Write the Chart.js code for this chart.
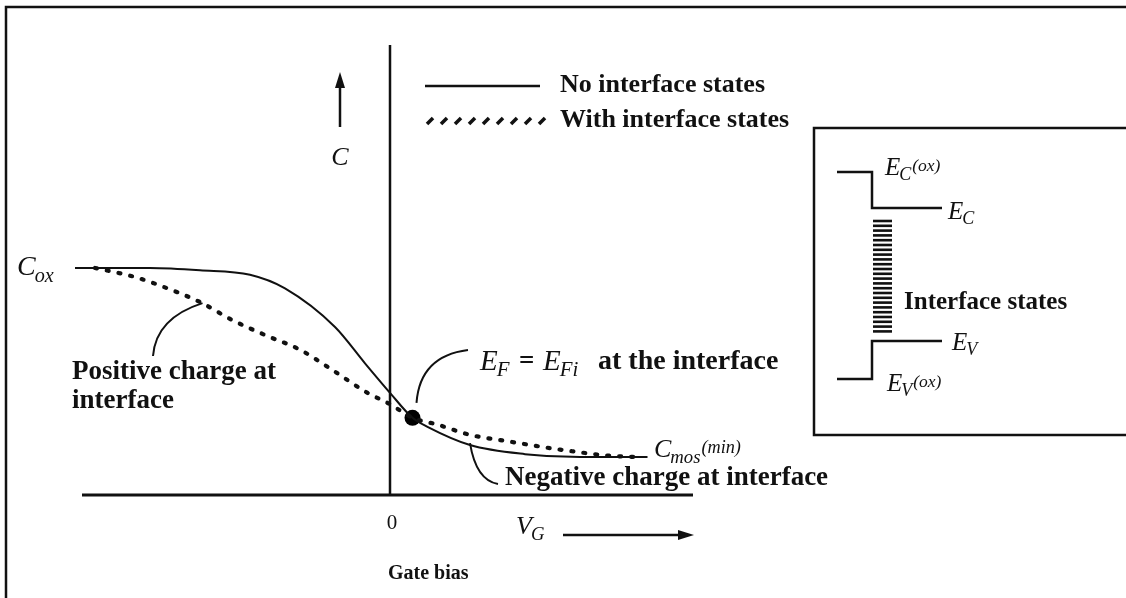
<!DOCTYPE html>
<html>
<head>
<meta charset="utf-8">
<script src="https://cdn.jsdelivr.net/npm/chart.js@4"></script>
<style>
  html, body { margin: 0; padding: 0; background: #fff; }
  canvas { display: block; }
</style>
</head>
<body>
<canvas id="cvChart" width="1126" height="598"></canvas>
<script>
// gate bias (arb. volts) / capacitance normalised to Cox
const biasIdeal  = [-6.3, -4.8, -3.8, -2.8, -2.1, -1.1, -0.5, 0, 0.45, 0.75, 1.6, 2.7, 3.8, 5.15];
const capIdeal   = [1.0, 1.0, 0.99, 0.97, 0.91, 0.74, 0.58, 0.45, 0.34, 0.30, 0.22, 0.18, 0.167, 0.167];
const biasStates = [-5.9, -5.1, -4.45, -3.8, -3.15, -2.45, -1.8, -1.15, -0.45, 0, 0.45, 0.95, 1.6, 2.4, 3.4, 4.45, 5.0];
const capStates  = [1.0, 0.96, 0.91, 0.85, 0.77, 0.70, 0.64, 0.55, 0.45, 0.40, 0.34, 0.31, 0.265, 0.235, 0.20, 0.172, 0.167];
const midgapPoint = [0.45, 0.34];   // E_F = E_Fi
const xTickLabels = ['0'];
const legendLabels = ['No interface states', 'With interface states'];

const SERIF = '"Liberation Serif", "DejaVu Serif", serif';

function pts(xs, ys) {
  return xs.map((v, i) => ({ x: v, y: ys[i] }));
}

function stroke(ctx, path, w) {
  ctx.beginPath();
  ctx.lineWidth = w;
  ctx.moveTo(path[0][0], path[0][1]);
  for (let i = 1; i < path.length; i++) ctx.lineTo(path[i][0], path[i][1]);
  ctx.stroke();
}

function curve(ctx, x1, y1, cx, cy, x2, y2, w) {
  ctx.beginPath();
  ctx.lineWidth = w;
  ctx.moveTo(x1, y1);
  ctx.quadraticCurveTo(cx, cy, x2, y2);
  ctx.stroke();
}

function txt(ctx, s, x, y, size, style) {
  ctx.font = (style || '') + ' ' + size + 'px ' + SERIF;
  ctx.fillText(s, x, y);
  return ctx.measureText(s).width;
}

// italic symbol with subscript and optional trailing part
function sym(ctx, base, sub, x, y, size, tail) {
  let w = txt(ctx, base, x, y, size, 'italic');
  let ws = txt(ctx, sub, x + w - 1, y + size * 0.3, size * 0.72, 'italic');
  if (tail) txt(ctx, tail, x + w + ws, y - size * 0.05, size * 0.7, 'italic');
}

const figurePlugin = {
  id: 'figure',
  afterDatasetsDraw(chart) {
    const ctx = chart.ctx;
    const xs = chart.scales.x, ys = chart.scales.y;
    const x0 = xs.getPixelForValue(0);
    const yb = ys.getPixelForValue(0);
    ctx.save();
    ctx.strokeStyle = '#111';
    ctx.fillStyle = '#111';
    ctx.lineCap = 'butt';
    ctx.textBaseline = 'middle';

    // outer frame
    stroke(ctx, [[1130, 7], [6, 7], [6, 600]], 2.5);

    // axes
    stroke(ctx, [[xs.left, yb], [xs.right, yb]], 3);
    stroke(ctx, [[x0, ys.top], [x0, yb]], 2.5);
    ctx.textAlign = 'center';
    txt(ctx, xTickLabels[0], x0 + 2, 523, 21, '');
    ctx.textAlign = 'left';

    // C arrow
    stroke(ctx, [[340, 127], [340, 84]], 2.5);
    ctx.beginPath();
    ctx.moveTo(340, 72); ctx.lineTo(335, 88); ctx.lineTo(345, 88); ctx.closePath(); ctx.fill();
    ctx.textAlign = 'center';
    txt(ctx, 'C', 340, 158, 26, 'italic');
    ctx.textAlign = 'left';

    // V_G arrow
    sym(ctx, 'V', 'G', 516, 527, 26);
    stroke(ctx, [[563, 535], [682, 535]], 2.5);
    ctx.beginPath();
    ctx.moveTo(694, 535); ctx.lineTo(678, 530); ctx.lineTo(678, 540); ctx.closePath(); ctx.fill();
    txt(ctx, 'Gate bias', 388, 574, 20, 'bold');

    // legend
    stroke(ctx, [[425, 86], [540, 86]], 2.5);
    for (let i = 0; i < 9; i++) {
      const lx = 427 + i * 14;
      stroke(ctx, [[lx, 124], [lx + 6, 118]], 3.5);
    }
    txt(ctx, legendLabels[0], 560, 85, 26, 'bold');
    txt(ctx, legendLabels[1], 560, 120, 26, 'bold');

    // curve labels
    sym(ctx, 'C', 'ox', 17, 268, 28);
    sym(ctx, 'C', 'mos', 654, 450, 26, '(min)');
    txt(ctx, 'Positive charge at', 72, 372, 27, 'bold');
    txt(ctx, 'interface', 72, 401, 27, 'bold');
    txt(ctx, 'Negative charge at interface', 505, 478, 27, 'bold');
    const ex = 480;
    sym(ctx, 'E', 'F', ex, 362, 29);
    txt(ctx, '=', ex + 39, 362, 27, 'bold');
    sym(ctx, 'E', 'Fi', ex + 63, 362, 29);
    txt(ctx, 'at the interface', ex + 118, 362, 28, 'bold');

    // leaders to the curves
    const pDot = [xs.getPixelForValue(-3.75), ys.getPixelForValue(0.845)];
    curve(ctx, 153, 356, 156, 318, pDot[0], pDot[1], 2);
    const pMid = [xs.getPixelForValue(midgapPoint[0]), ys.getPixelForValue(midgapPoint[1])];
    curve(ctx, pMid[0] + 4, pMid[1] - 15, 420, 356, 468, 350, 2);
    const pNeg = [xs.getPixelForValue(1.6), ys.getPixelForValue(0.22)];
    curve(ctx, 498, 484, 476, 480, pNeg[0], pNeg[1] - 2, 2);

    // inset band diagram
    stroke(ctx, [[1130, 128], [814, 128], [814, 435], [1130, 435]], 2.5);
    stroke(ctx, [[837, 172], [872, 172], [872, 208], [942, 208]], 2.5);
    stroke(ctx, [[942, 341], [872, 341], [872, 379], [837, 379]], 2.5);
    for (let hy = 221; hy <= 335; hy += 4.8) {
      stroke(ctx, [[873, hy], [892, hy]], 2.6);
    }
    sym(ctx, 'E', 'C', 885, 168, 25, '(ox)');
    sym(ctx, 'E', 'C', 948, 212, 25);
    txt(ctx, 'Interface states', 904, 303, 25, 'bold');
    sym(ctx, 'E', 'V', 952, 343, 25);
    sym(ctx, 'E', 'V', 887, 384, 25, '(ox)');

    ctx.restore();
  }
};

new Chart(document.getElementById('cvChart'), {
  type: 'scatter',
  data: {
    datasets: [{
      label: legendLabels[0],
      data: pts(biasIdeal, capIdeal),
      showLine: true,
      borderColor: '#111',
      borderWidth: 2,
      pointRadius: 0,
      cubicInterpolationMode: 'monotone',
      clip: false
    },
    {
      label: legendLabels[1],
      data: pts(biasStates, capStates),
      showLine: true,
      borderColor: '#111',
      borderWidth: 4.2,
      borderDash: [2, 10],
      borderCapStyle: 'round',
      pointRadius: 0,
      cubicInterpolationMode: 'monotone',
      clip: false
    },
    {
      label: 'midgap',
      data: [{ x: midgapPoint[0], y: midgapPoint[1] }],
      showLine: false,
      pointRadius: 8,
      pointBackgroundColor: '#000',
      pointBorderWidth: 0,
      clip: false
    }]
  },
  options: {
    responsive: false,
    animation: false,
    devicePixelRatio: 1,
    layout: { padding: { left: 82, right: 433, top: 45, bottom: 103 } },
    plugins: {
      legend: { display: false },
      tooltip: { enabled: false }
    },
    scales: {
      x: { type: 'linear', min: -6.16, max: 6.06, display: false },
      y: { type: 'linear', min: 0, max: 1.982, display: false }
    }
  },
  plugins: [figurePlugin]
});
</script>
</body>
</html>
